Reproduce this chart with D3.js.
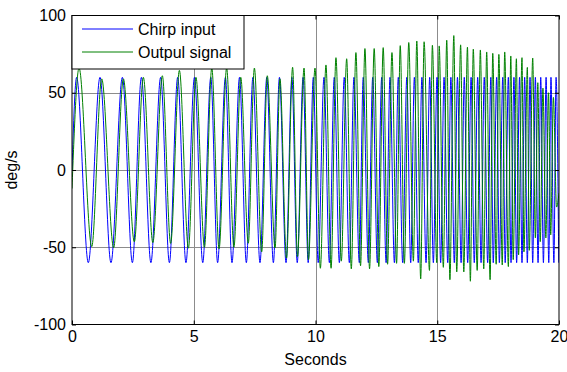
<!DOCTYPE html>
<html>
<head>
<meta charset="utf-8">
<script src="https://cdn.jsdelivr.net/npm/d3@7"></script>
<style>
html,body{margin:0;padding:0;background:#fff;}
svg{display:block;font-family:"Liberation Sans",Arial,sans-serif;}
</style>
</head>
<body>
<svg id="chart" width="567" height="372"></svg>
<script>
// ---- data ----
const xTicks = [0, 5, 10, 15, 20];
const yTicks = [-100, -50, 0, 50, 100];
const seriesNames = ["Chirp input", "Outpul signal"];
const xLabel = "Seconds";
const yLabel = "deg/s";

// Chirp input: start point and extrema (time s, value deg/s)
const inputTime = [0, 0.19, 0.67, 1.15, 1.60, 2.07, 2.48, 2.85, 3.24, 3.64, 4.00, 4.34, 4.68, 5.03, 5.37, 5.70, 5.98,
  6.30, 6.57, 6.88, 7.16, 7.43, 7.72, 8.00, 8.27, 8.52, 8.79, 9.03, 9.25, 9.49, 9.70, 9.91, 10.11, 10.35, 10.57,
  10.77, 10.98, 11.18, 11.39, 11.58, 11.80, 11.96, 12.17, 12.35, 12.54, 12.72, 12.90, 13.06, 13.24, 13.40, 13.58,
  13.75, 13.91, 14.06, 14.22, 14.37, 14.54, 14.69, 14.84, 14.99, 15.14, 15.28, 15.43, 15.56, 15.70, 15.83, 15.98,
  16.11, 16.25, 16.39, 16.52, 16.66, 16.80, 16.93, 17.07, 17.20, 17.30, 17.44, 17.55, 17.69, 17.79, 17.92, 18.03,
  18.15, 18.26, 18.38, 18.48, 18.59, 18.70, 18.81, 18.92, 19.03, 19.14, 19.25, 19.36, 19.47, 19.58, 19.67, 19.79,
  19.88, 19.99];
const inputValue = [0, 60, -60, 60, -60, 60, -60, 60, -60, 60, -60, 60, -60, 60, -60, 60, -60,
  60, -60, 60, -60, 60, -60, 60, -60, 60, -60, 60, -60, 60, -60, 60, -60, 60, -60,
  60, -60, 60, -60, 60, -60, 60, -60, 60, -60, 60, -60, 60, -60, 60, -60,
  60, -60, 60, -60, 60, -60, 60, -60, 60, -60, 60, -60, 60, -60, 60, -60,
  60, -60, 60, -60, 60, -60, 60, -60, 60, -60, 60, -60, 60, -60, 60, -60,
  60, -60, 60, -60, 60, -60, 60, -60, 60, -60, 60, -60, 60, -60, 60, -60,
  60, -60];

// Output signal: start point, extrema and end point
const outputTime = [0, 0.29, 0.81, 1.22, 1.71, 2.11, 2.56, 2.93, 3.32, 3.71, 4.05, 4.41, 4.78, 5.09, 5.44, 5.74, 6.04,
  6.35, 6.65, 6.93, 7.24, 7.49, 7.79, 8.02, 8.34, 8.54, 8.81, 9.06, 9.26, 9.53, 9.71, 9.98, 10.20, 10.43, 10.64,
  10.84, 11.06, 11.28, 11.47, 11.66, 11.85, 12.03, 12.22, 12.41, 12.60, 12.78, 12.96, 13.14, 13.33, 13.48, 13.65,
  13.83, 14.02, 14.16, 14.32, 14.46, 14.68, 14.80, 14.98, 15.08, 15.25, 15.39, 15.52, 15.68, 15.80, 15.96, 16.09,
  16.24, 16.36, 16.48, 16.64, 16.77, 16.91, 17.03, 17.17, 17.28, 17.42, 17.53, 17.67, 17.77, 17.92, 18.02, 18.12,
  18.25, 18.34, 18.48, 18.56, 18.70, 18.78, 18.92, 19.03, 19.13, 19.23, 19.34, 19.46, 19.57, 19.66, 19.77, 19.90, 20.0];
const outputValue = [-12, 66, -49.6, 59, -50.3, 59, -46.5, 60, -47, 61, -47.5, 64.5, -50.6, 60, -50, 66, -51,
  66, -50, 60, -47.4, 66, -53, 61, -50.5, 59, -57, 66.5, -56, 66, -58, 66, -63.6, 68, -63.6,
  72.7, -59, 72, -64, 76, -62, 78.6, -64, 78.6, -62.5, 79.2, -61, 76, -60.4, 80.5, -60.4,
  82.5, -59, 83.5, -70.5, 83, -65, 80.7, -60, 80.3, -63, 84, -71, 87, -66, 81, -66,
  79.5, -72, 78.2, -65, 77.7, -64, 76.4, -71, 75.5, -61, 74.8, -61.5, 76.4, -62.5, 73.8, -58,
  72, -55, 72.7, -53, 66.4, -52, 72.5, -44, 56.5, -46.4, 53, -44, 50, -42, 47, -24, -15];

const colors = ["#0000ff", "#008000"];

// ---- chart ----
const svg = d3.select("#chart");
const L = 72, R = 559, T = 15.5, B = 324.5;
const x = d3.scaleLinear().domain([0, 20]).range([L, R]);
const y = d3.scaleLinear().domain([-100, 100]).range([B, T]);

// grid
const grid = svg.append("g").attr("stroke", "#8c8c8c").attr("stroke-width", 1);
xTicks.slice(1, -1).forEach(t => {
  const px = Math.round(x(t)) + 0.5;
  grid.append("line").attr("x1", px).attr("x2", px).attr("y1", T).attr("y2", B);
});
yTicks.slice(1, -1).forEach(t => {
  const py = Math.round(y(t)) + 0.5;
  grid.append("line").attr("x1", L).attr("x2", R).attr("y1", py).attr("y2", py);
});

// series
const series = [
  d3.zip(inputTime, inputValue),
  d3.zip(outputTime, outputValue)
];
const line = d3.line().x(d => x(d[0])).y(d => y(d[1])).curve(d3.curveMonotoneX);
svg.append("defs").append("clipPath").attr("id", "clip")
  .append("rect").attr("x", L).attr("y", T).attr("width", R - L).attr("height", B - T);
const plot = svg.append("g").attr("clip-path", "url(#clip)");
series.forEach((s, i) => {
  plot.append("path").datum(s).attr("d", line)
    .attr("fill", "none").attr("stroke", colors[i]).attr("stroke-width", 1);
});

// axes (inside ticks, MATLAB style)
function styleAxis(g, labels) {
  g.select(".domain").remove();
  g.selectAll(".tick line").attr("stroke", "#000");
  g.selectAll(".tick text").attr("fill", "#000").style("font-size", "16px")
    .style("font-family", "'Liberation Sans', Arial, sans-serif");
  if (!labels) g.selectAll(".tick text").remove();
}
svg.append("g").attr("transform", `translate(0,${B})`)
  .call(d3.axisBottom(x).tickValues(xTicks).tickSizeInner(-4).tickSizeOuter(0).tickPadding(6).tickFormat(d3.format("d")))
  .call(g => styleAxis(g, true));
svg.append("g").attr("transform", `translate(0,${T})`)
  .call(d3.axisTop(x).tickValues(xTicks).tickSizeInner(-4).tickSizeOuter(0))
  .call(g => styleAxis(g, false));
svg.append("g").attr("transform", `translate(${L},0)`)
  .call(d3.axisLeft(y).tickValues(yTicks).tickSizeInner(-4).tickSizeOuter(0).tickPadding(6).tickFormat(d3.format("d")))
  .call(g => styleAxis(g, true));
svg.append("g").attr("transform", `translate(${R},0)`)
  .call(d3.axisRight(y).tickValues(yTicks).tickSizeInner(-4).tickSizeOuter(0))
  .call(g => styleAxis(g, false));
svg.selectAll(".tick text").filter(function(){ return this.textContent.startsWith("−"); })
  .text(function(){ return this.textContent.replace("−", "-"); });

// box
svg.append("rect").attr("x", L).attr("y", T).attr("width", R - L).attr("height", B - T)
  .attr("fill", "none").attr("stroke", "#000").attr("stroke-width", 1);

// axis labels
svg.append("text").attr("x", (L + R) / 2).attr("y", 365).attr("text-anchor", "middle")
  .style("font-size", "16px").text(xLabel);
svg.append("text").attr("transform", `translate(17,${(T + B) / 2}) rotate(-90)`)
  .attr("text-anchor", "middle").style("font-size", "16px").text(yLabel);

// legend
const lg = svg.append("g");
lg.append("rect").attr("x", L).attr("y", T).attr("width", 172).attr("height", 53.5)
  .attr("fill", "#fff").attr("stroke", "#000").attr("stroke-width", 1);
seriesNames.forEach((name, i) => {
  const ly = 29 + i * 23;
  lg.append("line").attr("x1", 82).attr("x2", 133).attr("y1", ly).attr("y2", ly)
    .style("stroke", colors[i]).style("stroke-width", "1px");
  lg.append("text").attr("x", 138).attr("y", ly + 6).style("font-size", "16px").text(name);
});
</script>
</body>
</html>
